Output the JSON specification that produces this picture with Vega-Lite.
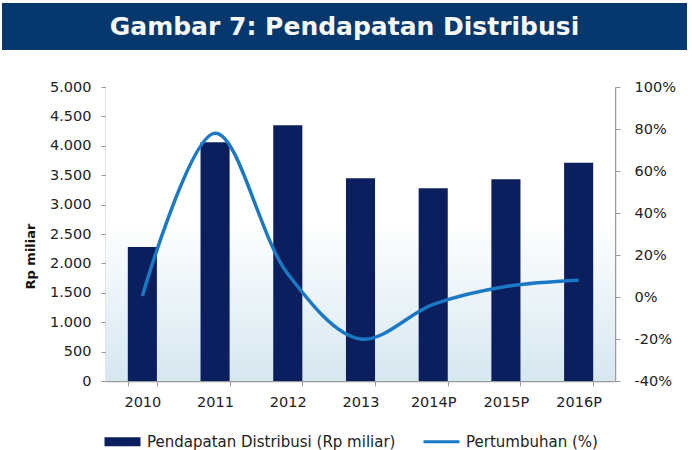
{
  "$schema": "https://vega.github.io/schema/vega-lite/v6.json",
  "padding": {"left": 2, "top": 3, "right": 0, "bottom": 0},
  "background": "white",
  "spacing": 29,
  "resolve": {"scale": {"color": "shared"}, "legend": {"color": "shared"}},
  "config": {
    "locale": {"number": {"decimal": ",", "thousands": ".", "grouping": [3], "currency": ["Rp", ""], "minus": "-"}},
    "font": "DejaVu Sans",
    "view": {"stroke": null}
  },
  "vconcat": [
    {
      "width": 685,
      "height": 47,
      "view": {"fill": "#06386d", "stroke": null},
      "data": {"values": [{"t": "Gambar 7: Pendapatan Distribusi"}]},
      "mark": {"type": "text", "font": "DejaVu Sans", "fontWeight": "bold", "fontSize": 25, "color": "#f7f7f7", "baseline": "middle", "align": "center"},
      "encoding": {"text": {"field": "t", "type": "nominal"}}
    },
    {
      "spacing": 21,
      "resolve": {"scale": {"color": "shared"}, "legend": {"color": "shared"}},
      "hconcat": [
        {
          "width": 1,
          "height": 1,
          "data": {"values": []},
          "mark": "point"
        },
        {
          "width": 509,
          "height": 294,
          "data": {"values": [
            {"year": "2010", "pendapatan": 2280, "growth": 0.005},
            {"year": "2011", "pendapatan": 4060, "growth": 0.78},
            {"year": "2012", "pendapatan": 4350, "growth": 0.11},
            {"year": "2013", "pendapatan": 3450, "growth": -0.20},
            {"year": "2014P", "pendapatan": 3280, "growth": -0.035},
            {"year": "2015P", "pendapatan": 3430, "growth": 0.05},
            {"year": "2016P", "pendapatan": 3710, "growth": 0.08}
          ]},
          "layer": [
            {
              "data": {"values": [{}]},
              "mark": {"type": "rect", "fill": {"gradient": "linear", "x1": 0, "y1": 0, "x2": 0, "y2": 1, "stops": [{"offset": 0, "color": "#ffffff"}, {"offset": 0.45, "color": "#ffffff"}, {"offset": 1, "color": "#d6e7f0"}]}},
              "encoding": {}
            },
            {
              "mark": {"type": "bar", "color": "#0b1f5e"},
              "encoding": {
                "x": {"field": "year", "type": "ordinal", "sort": null,
                  "scale": {"paddingInner": 0.6, "paddingOuter": 0.3},
                  "axis": {"title": null, "labelAngle": 0, "tickBand": "extent", "domainColor": "#9a9a9a", "tickColor": "#9a9a9a", "tickSize": 5, "labelPadding": 9, "labelFont": "DejaVu Sans", "labelFontSize": 14.5, "labelColor": "#222222", "domainWidth": 1.5}},
                "y": {"field": "pendapatan", "type": "quantitative",
                  "scale": {"domain": [0, 5000], "nice": false},
                  "axis": {"title": "Rp miliar", "titleFont": "DejaVu Sans", "titleFontSize": 13, "titleFontWeight": "bold", "titleColor": "#111111", "titleX": -76, "titleY": 169, "titleAngle": -90, "titleBaseline": "middle", "titleAlign": "center",
                    "values": [0, 500, 1000, 1500, 2000, 2500, 3000, 3500, 4000, 4500, 5000], "format": ",.0f",
                    "labelFont": "DejaVu Sans", "labelFontSize": 14.5, "labelColor": "#222222", "grid": false,
                    "domainColor": "#9a9a9a", "tickColor": "#9a9a9a", "tickSize": 5, "labelPadding": 10, "domainWidth": 1.5}},
                "color": {"datum": "Pendapatan Distribusi (Rp miliar)", "type": "nominal",
                  "scale": {"domain": ["Pendapatan Distribusi (Rp miliar)", "Pertumbuhan (%)"], "range": ["#0b1f5e", "#1a78c4"]},
                  "legend": {"orient": "none", "legendX": 113, "legendY": 431, "direction": "horizontal", "title": null, "padding": 0,
                    "symbolSize": 81, "labelFont": "DejaVu Sans", "labelFontSize": 15, "labelColor": "#222222", "labelOffset": 17, "labelLimit": 0, "columnPadding": 27,
                    "encode": {"symbols": {"update": {
                      "shape": {"signal": "datum.value === 'Pertumbuhan (%)' ? 'M-4,-0.33H4V0.33H-4Z' : 'M-4,-1H4V1H-4Z'"},
                      "fill": {"signal": "datum.value === 'Pertumbuhan (%)' ? '#1a78c4' : '#0b1f5e'"},
                      "stroke": {"value": "transparent"},
                      "strokeWidth": {"value": 0},
                      "opacity": {"value": 1},
                      "fillOpacity": {"value": 1}
                    }}}}}
              }
            },
            {
              "mark": {"type": "line", "interpolate": "catmull-rom", "strokeWidth": 3.5},
              "encoding": {
                "x": {"field": "year", "type": "ordinal", "sort": null},
                "y": {"field": "growth", "type": "quantitative",
                  "scale": {"domain": [-0.4, 1], "nice": false},
                  "axis": {"orient": "right", "title": null, "values": [-0.4, -0.2, 0, 0.2, 0.4, 0.6, 0.8, 1], "format": ".0%",
                    "labelFont": "DejaVu Sans", "labelFontSize": 14.5, "labelColor": "#222222", "labelAlign": "left", "grid": false,
                    "domainColor": "#9a9a9a", "tickColor": "#9a9a9a", "tickSize": 5, "labelPadding": 14, "domainWidth": 1.5}},
                "color": {"datum": "Pertumbuhan (%)", "type": "nominal"}
              }
            }
          ],
          "resolve": {"scale": {"y": "independent"}}
        }
      ]
    }
  ]
}
